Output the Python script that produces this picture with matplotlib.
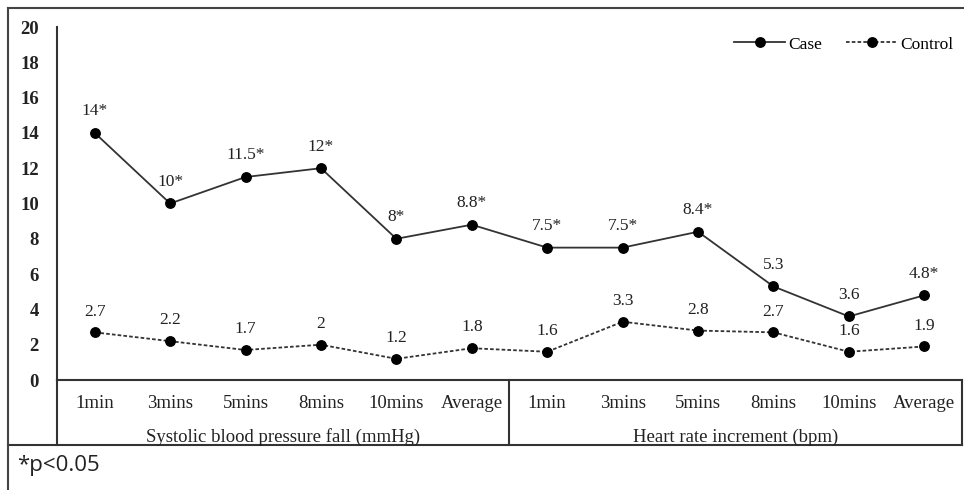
import matplotlib
matplotlib.use("Agg")
import matplotlib.pyplot as plt
from matplotlib.lines import Line2D

plt.rcParams['font.family'] = ['Liberation Serif', 'DejaVu Serif']

timepoints = ["1min", "3mins", "5mins", "8mins", "10mins", "Average"]
groups = ["Systolic blood pressure fall (mmHg)", "Heart rate increment (bpm)"]
categories = timepoints + timepoints

case_vals = [14, 10, 11.5, 12, 8, 8.8, 7.5, 7.5, 8.4, 5.3, 3.6, 4.8]
case_sig = [True, True, True, True, True, True, True, True, True, False, False, True]
control_vals = [2.7, 2.2, 1.7, 2, 1.2, 1.8, 1.6, 3.3, 2.8, 2.7, 1.6, 1.9]

W, H = 964, 490
fig = plt.figure(figsize=(W / 100, H / 100), dpi=100)
ax = fig.add_axes([57 / W, (H - 380) / H, (962 - 57) / W, (380 - 27) / H])

x = list(range(len(categories)))
ax.plot(x, case_vals, color="#333333", lw=1.3, marker="o", ms=6.8,
        mfc="black", mec="black", label="Case")
ax.plot(x, control_vals, color="#333333", lw=1.3, ls=(0, (2, 1.2)), marker="o",
        ms=6.8, mfc="black", mec="black", label="Control")

def fmt(v):
    return f"{v:g}"

for xi, v, s in zip(x, case_vals, case_sig):
    ax.annotate(fmt(v) + ("*" if s else ""), (xi, v), xytext=(0, 15.5),
                textcoords="offset points", ha="center", va="center",
                fontsize=12.5, color="#222222")
for xi, v in zip(x, control_vals):
    ax.annotate(fmt(v), (xi, v), xytext=(0, 15),
                textcoords="offset points", ha="center", va="center",
                fontsize=12.5, color="#222222")

ax.set_xlim(-0.5, len(categories) - 0.5)
ax.set_ylim(0, 20)
ax.set_yticks(range(0, 21, 2))
ax.set_yticklabels([str(t) for t in range(0, 21, 2)], fontsize=13.5, fontweight="bold")
ax.tick_params(axis="y", length=0, pad=13, colors="#222222")
ax.set_xticks([])
for side in ["top", "right"]:
    ax.spines[side].set_visible(False)
for side in ["left", "bottom"]:
    ax.spines[side].set_color("#333333")
    ax.spines[side].set_linewidth(1.5)

# category table under the axis
tb = -65 / 353
trans = ax.get_xaxis_transform()
table_kw = dict(color="#333333", lw=1.5, transform=trans, clip_on=False)
ax.add_line(Line2D([-0.5, -0.5], [0, tb], **table_kw))
ax.add_line(Line2D([5.5, 5.5], [0, tb], **table_kw))
ax.add_line(Line2D([11.5, 11.5], [0, tb], **table_kw))
ax.add_line(Line2D([-1.15, 11.5], [tb, tb], **table_kw))
for xi, lab in zip(x, categories):
    ax.text(xi, -23 / 353, lab, transform=trans, ha="center", va="center",
            fontsize=13.5, color="#222222")
for gi, g in enumerate(groups):
    ax.text(2.5 + 6 * gi, -57 / 353, g, transform=trans, ha="center", va="center",
            fontsize=13.5, color="#222222")

ax.legend(loc="upper right", bbox_to_anchor=(1.0, 0.998), ncol=2, frameon=False,
          fontsize=12.5, handlelength=2.9, columnspacing=1.4, handletextpad=0.2,
          borderaxespad=0.1)

# outer frame
fig.add_artist(Line2D([8 / W, 8 / W], [0, 1 - 8 / H], color="#444444", lw=1.5))
fig.add_artist(Line2D([8 / W, 1], [1 - 8 / H, 1 - 8 / H], color="#444444", lw=1.5))

fig.text(17 / W, 1 - 465 / H, "*p<0.05", fontsize=16, family="Open Sans",
         ha="left", va="center", color="#222222")

fig.savefig("out.png", dpi=100)
